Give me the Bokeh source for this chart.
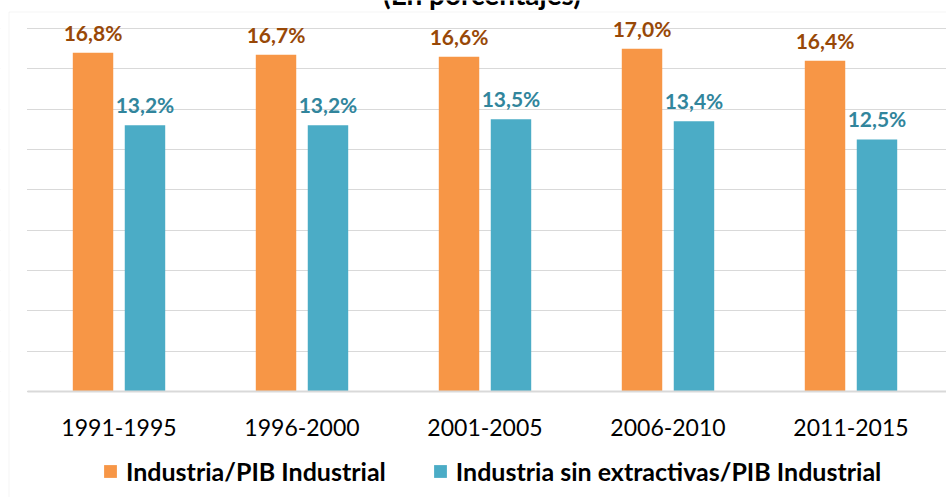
from bokeh.plotting import figure
from bokeh.models import (Range1d, Legend, LegendItem, Label, LabelSet, LinearAxis,
                          BoxAnnotation, FixedTicker, ColumnDataSource)
from bokeh.transform import dodge
from bokeh.core.properties import value
from bokeh.embed import file_html
from bokeh.resources import INLINE

# ---- data ----
periods = ["1991-1995", "1996-2000", "2001-2005", "2006-2010", "2011-2015"]
industria = [16.8, 16.7, 16.6, 17.0, 16.4]
sin_extractivas = [13.2, 13.2, 13.5, 13.4, 12.5]
series_names = ["Industria/PIB Industrial", "Industria sin extractivas/PIB Industrial"]
title_text = "(En porcentajes)"
grid_ticks = [0, 2, 4, 6, 8, 10, 12, 14, 16, 18]


def fmt(v):
    return f"{v:.1f}%".replace(".", ",")


positions = list(range(len(periods)))
src = ColumnDataSource(dict(
    pos=positions, ind=industria, sin=sin_extractivas,
    ind_lbl=[fmt(v) for v in industria],
    sin_lbl=[fmt(v) for v in sin_extractivas],
))

# ---- layout constants (pixels) ----
W, H = 946, 497
CAT_PX = 183.0          # width of one category slot
FIRST_CENTER_PX = 118.5  # x of first category centre
BASE_PX = 391.0          # y (from top) of value 0
TOP_GRID_PX = 28.0       # y (from top) of value 18
UNIT_PX = (BASE_PX - TOP_GRID_PX) / grid_ticks[-1]

x_start = -FIRST_CENTER_PX / CAT_PX
x_end = x_start + W / CAT_PX
y_start = -(H - BASE_PX) / UNIT_PX
y_end = BASE_PX / UNIT_PX

p = figure(width=W, height=H,
           x_range=Range1d(x_start, x_end), y_range=Range1d(y_start, y_end),
           x_axis_location=None, y_axis_location=None,
           output_backend="svg", toolbar_location=None,
           min_border_left=0, min_border_right=0,
           min_border_top=0, min_border_bottom=0)
p.outline_line_color = None
p.background_fill_color = "white"
p.border_fill_color = "white"

p.xgrid.visible = False
p.ygrid.ticker = FixedTicker(ticks=grid_ticks)
p.ygrid.grid_line_color = "#D9D9D9"
p.ygrid.grid_line_width = 1

ax = LinearAxis(fixed_location=0, ticker=FixedTicker(ticks=positions),
                major_label_overrides={i: s for i, s in zip(positions, periods)},
                bounds=(-0.5, x_end))
ax.axis_line_color = "#D9D9D9"
ax.axis_line_width = 2
ax.major_tick_line_color = None
ax.minor_tick_line_color = None
ax.major_label_text_font = "Lato"
ax.major_label_text_font_size = "23px"
ax.major_label_text_color = "black"
ax.major_label_standoff = 21
p.add_layout(ax, "below")

OFF = 0.142
BW = 0.221
r1 = p.vbar(x=dodge("pos", -OFF), top="ind", width=BW,
            source=src, fill_color="#F79646", line_color=None)
r2 = p.vbar(x=dodge("pos", OFF), top="sin", width=BW,
            source=src, fill_color="#4BACC6", line_color=None)

l1 = LabelSet(x=dodge("pos", -OFF), y="ind", text="ind_lbl",
              source=src, text_align="center", text_baseline="alphabetic",
              y_offset=12, text_font=value("Lato"), text_font_style="bold",
              text_font_size="21px", text_color="#984807")
l2 = LabelSet(x=dodge("pos", OFF), y="sin", text="sin_lbl",
              source=src, text_align="center", text_baseline="alphabetic",
              y_offset=12, text_font=value("Lato"), text_font_style="bold",
              text_font_size="21px", text_color="#31859C")
p.add_layout(l1)
p.add_layout(l2)

# white mask left of the plot area (hides grid lines there)
mask = BoxAnnotation(left=-10, right=26.5, top=H + 10, bottom=-10,
                     left_units="screen", right_units="screen",
                     top_units="screen", bottom_units="screen",
                     fill_color="white", fill_alpha=1, line_color=None)
p.add_layout(mask)

# chart-area border (cropped at right and bottom)
border = BoxAnnotation(left=8.5, right=W + 20, top=H - 11.5, bottom=-20,
                       left_units="screen", right_units="screen",
                       top_units="screen", bottom_units="screen",
                       fill_alpha=0, line_color="#D9D9D9", line_width=1)
p.add_layout(border)

title = Label(x=481.5, y=H + 7, x_units="screen", y_units="screen", text=title_text,
              text_align="center", text_baseline="alphabetic",
              text_font="Lato", text_font_style="bold", text_font_size="28px",
              text_color="black")
p.add_layout(title)

legend = Legend(items=[LegendItem(label=series_names[0], renderers=[r1]),
                       LegendItem(label=series_names[1], renderers=[r2])],
                orientation="horizontal", location=(102, 11),
                glyph_width=16, glyph_height=16, label_standoff=8, spacing=46,
                padding=0, margin=0, border_line_color=None,
                background_fill_alpha=0,
                label_text_font="Lato", label_text_font_style="bold",
                label_text_font_size="25px", label_text_color="black")
p.add_layout(legend)

open("out.html", "w").write(file_html(p, INLINE))
